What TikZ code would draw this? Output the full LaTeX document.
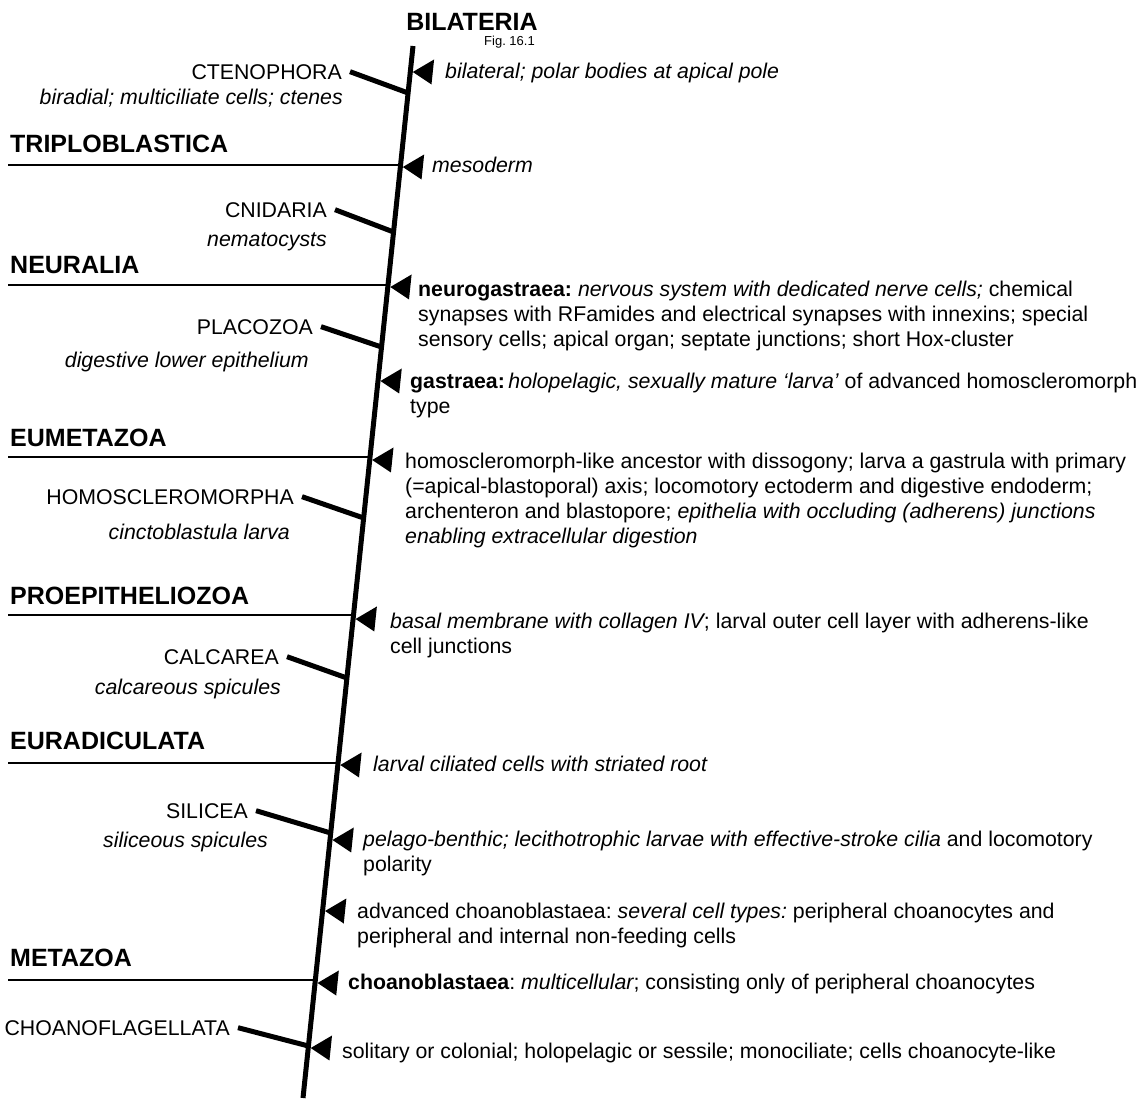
\documentclass[tikz,border=0pt]{standalone}
\usepackage{fontspec}
\setmainfont{Liberation Sans}
\usetikzlibrary{calc}

\newcommand{\bodyfont}{\fontsize{21.3}{25}\selectfont}
\newcommand{\cladefont}{\fontsize{25}{28}\selectfont\bfseries}
% point on the stem at picture height #2
\newcommand{\stempt}[2]{\coordinate (#1) at ($(stemtop)!{(#2-46)/1052}!(stembot)$);}
% black triangle pointing at the stem, base parallel to it
\newcommand{\apo}[1]{\fill (#1) ++(2.5,0) -- ++(21.3,-12.5) -- ++(-2.6,25) -- cycle;}

\begin{document}
\begin{tikzpicture}[x=1pt, y=-1pt,
  clade/.style={font=\cladefont, anchor=base west, inner sep=0pt},
  taxon/.style={font=\bodyfont, anchor=base east, inner xsep=8pt},
  trait/.style={font=\bodyfont\itshape, anchor=base east, inner sep=0pt},
  note/.style={font=\bodyfont, anchor=north west, inner sep=0pt, align=left},
  stem/.style={line width=5pt},
  branch/.style={line width=5pt},
  cladeline/.style={line width=1.6pt}]
\useasboundingbox (0,0) rectangle (1147,1098);
\frenchspacing

% main stem
\coordinate (stemtop) at (413,46);
\coordinate (stembot) at (303,1098);
\draw[stem] (stemtop) -- (stembot);
\node[font=\cladefont, anchor=base] (bilat) at (472,30) {BILATERIA};
\node[font=\fontsize{13}{15}\selectfont, anchor=base east, inner sep=0pt] (fig) at (535,45) {Fig. 16.1};

% Ctenophora
\node[taxon] (cteno) at (350,79) {CTENOPHORA};
\node[trait] (ctenotr) at (343,104) {biradial; multiciliate cells; ctenes};
\stempt{ctenoS}{93}
\draw[branch] (cteno.east) -- (ctenoS);
\stempt{bilatA}{72}
\apo{bilatA}
\node[note] (bilatN) at (445,60.5) {\strut\itshape bilateral; polar bodies at apical pole};

% Triploblastica
\node[clade] (tripl) at (10,152) {TRIPLOBLASTICA};
\coordinate (triplL) at (8,165);
\stempt{triplS}{165}
\draw[cladeline] (triplL) -- (triplS);
\stempt{triplA}{167}
\apo{triplA}
\node[note] (triplN) at (432,154.5) {\strut\itshape mesoderm};

% Cnidaria
\node[taxon] (cnid) at (335,217) {CNIDARIA};
\node[trait] (cnidtr) at (327,246) {nematocysts};
\stempt{cnidS}{232}
\draw[branch] (cnid.east) -- (cnidS);

% Neuralia
\node[clade] (neur) at (10,273) {NEURALIA};
\coordinate (neurL) at (8,285);
\stempt{neurS}{285}
\draw[cladeline] (neurL) -- (neurS);
\stempt{neurA}{287}
\apo{neurA}
\node[note] (neurN) at (418,278.5) {\strut\textbf{neurogastraea:} {\itshape nervous system with dedicated nerve cells;} chemical\\
  synapses with RFamides and electrical synapses with innexins; special\\
  sensory cells; apical organ; septate junctions; short Hox-cluster};

% Placozoa
\node[taxon] (plac) at (321,334) {PLACOZOA};
\node[trait] (plactr) at (309,367) {digestive lower epithelium};
\stempt{placS}{347}
\draw[branch] (plac.east) -- (placS);
\stempt{gastA}{381}
\apo{gastA}
\node[note] (gastN) at (410,370.5) {\strut\textbf{gastraea:}\,{\itshape holopelagic, sexually mature ‘larva’} of advanced homoscleromorph\\
  type};

% Eumetazoa
\node[clade] (eumet) at (10,446) {EUMETAZOA};
\coordinate (eumetL) at (8,457);
\stempt{eumetS}{457}
\draw[cladeline] (eumetL) -- (eumetS);
\stempt{eumetA}{460}
\apo{eumetA}
\node[note] (eumetN) at (405,450.5) {\strut homoscleromorph-like ancestor with dissogony; larva a gastrula with primary\\
  (=apical-blastoporal) axis; locomotory ectoderm and digestive endoderm;\\
  archenteron and blastopore; {\itshape epithelia with occluding (adherens) junctions}\\
  {\itshape enabling extracellular digestion}};

% Homoscleromorpha
\node[taxon] (homo) at (302,504) {HOMOSCLEROMORPHA};
\node[trait] (homotr) at (290,539) {cinctoblastula larva};
\stempt{homoS}{518}
\draw[branch] (homo.east) -- (homoS);

% Proepitheliozoa
\node[clade] (proep) at (10,604) {PROEPITHELIOZOA};
\coordinate (proepL) at (8,615);
\stempt{proepS}{615}
\draw[cladeline] (proepL) -- (proepS);
\stempt{proepA}{619}
\apo{proepA}
\node[note] (proepN) at (390,610.5) {\strut{\itshape basal membrane with collagen IV}; larval outer cell layer with adherens-like\\
  cell junctions};

% Calcarea
\node[taxon] (calc) at (287,664) {CALCAREA};
\node[trait] (calctr) at (281,694) {calcareous spicules};
\stempt{calcS}{678}
\draw[branch] (calc.east) -- (calcS);

% Euradiculata
\node[clade] (eurad) at (10,749) {EURADICULATA};
\coordinate (euradL) at (8,763);
\stempt{euradS}{763}
\draw[cladeline] (euradL) -- (euradS);
\stempt{euradA}{765}
\apo{euradA}
\node[note] (euradN) at (373,753.5) {\strut\itshape larval ciliated cells with striated root};

% Silicea
\node[taxon] (silic) at (256,818) {SILICEA};
\node[trait] (silictr) at (268,847) {siliceous spicules};
\stempt{silicS}{833}
\draw[branch] (silic.east) -- (silicS);
\stempt{pelagA}{840}
\apo{pelagA}
\node[note] (pelagN) at (363,828.5) {\strut{\itshape pelago-benthic; lecithotrophic larvae with effective-stroke cilia} and locomotory\\
  polarity};
\stempt{advA}{911}
\apo{advA}
\node[note] (advN) at (357,900.5) {\strut advanced choanoblastaea: {\itshape several cell types:} peripheral choanocytes and\\
  peripheral and internal non-feeding cells};

% Metazoa
\node[clade] (metaz) at (10,966) {METAZOA};
\coordinate (metazL) at (8,980);
\stempt{metazS}{980}
\draw[cladeline] (metazL) -- (metazS);
\stempt{metazA}{983}
\apo{metazA}
\node[note] (metazN) at (348,971.5) {\strut\textbf{choanoblastaea}: {\itshape multicellular}; consisting only of peripheral choanocytes};

% Choanoflagellata
\node[taxon] (choan) at (238,1035) {CHOANOFLAGELLATA};
\stempt{choanS}{1046}
\draw[branch] (choan.east) -- (choanS);
\stempt{choanA}{1048}
\apo{choanA}
\node[note] (choanN) at (342,1040.5) {\strut solitary or colonial; holopelagic or sessile; monociliate; cells choanocyte-like};
\end{tikzpicture}
\end{document}
